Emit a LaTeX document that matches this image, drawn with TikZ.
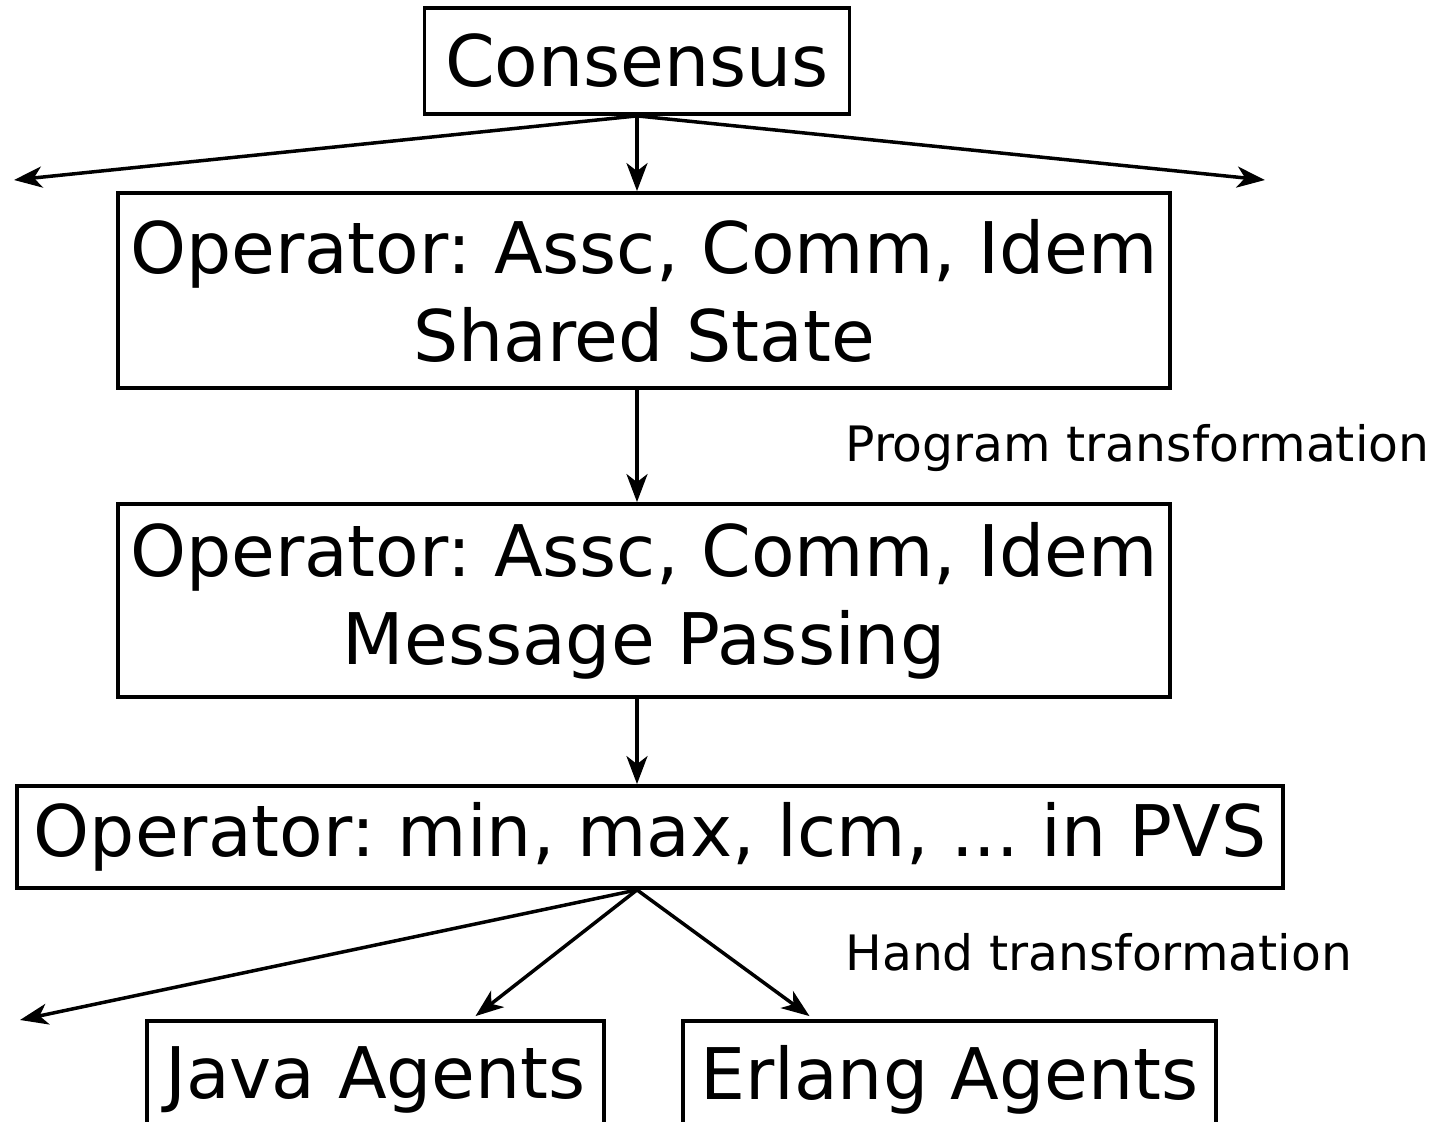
\documentclass[tikz,border=0pt]{standalone}
\usepackage{fontspec}
\setmainfont{DejaVu Sans}
\usetikzlibrary{arrows.meta,calc}
\frenchspacing
\begin{document}
\frenchspacing
\begin{tikzpicture}[x=0.5pt,y=-0.5pt,
  box/.style={draw,line width=1.9pt,inner sep=0pt,font=\fontsize{35.6}{44}\selectfont,align=center},
  lbl/.style={font=\fontsize{24.4}{29}\selectfont,anchor=base west,inner sep=0pt},
  arr/.style={line width=1.75pt,-{Stealth[length=14pt,width=10.5pt,inset=4pt]}}]
\useasboundingbox (0,0) rectangle (1432,1122);
\clip (0,0) rectangle (1432,1122);
\node[box,minimum width=212.5pt,minimum height=53pt] (cons) at (637,61) {Consensus};
\node[box,minimum width=526pt,minimum height=97.5pt] (box2) at (644,290.5) {Operator: Assc, Comm, Idem\\Shared State};
\node[box,minimum width=526pt,minimum height=96.5pt] (box3) at (644,600.5) {Operator: Assc, Comm, Idem\\Message Passing};
\node[box,minimum width=633pt,minimum height=51pt] (box4) at (650,837) {Operator: min, max, lcm, ... in PVS};
\node[box,minimum width=228.5pt,minimum height=59pt] (java) at (375.5,1080) {Java Agents};
\node[box,minimum width=266.5pt,minimum height=59pt] (erl) at (949.5,1080) {Erlang Agents};
\node[lbl] (pt) at (845,462) {Program transformation};
\node[lbl] (ht) at (845,971) {Hand transformation};
\coordinate (L1) at (14,180);
\coordinate (R1) at (1265,180);
\coordinate (L2) at (20,1020);
\draw[arr] (cons.south) -- (L1);
\draw[arr] (cons.south) -- (R1);
\draw[arr] (cons.south) -- (cons.south |- box2.north);
\draw[arr] (cons.south |- box2.south) -- (cons.south |- box3.north);
\draw[arr] (cons.south |- box3.south) -- (cons.south |- box4.north);
\draw[arr] (cons.south |- box4.south) -- (L2);
\draw[arr] (cons.south |- box4.south) -- ($(java.north)+(100,-3)$);
\draw[arr] (cons.south |- box4.south) -- ($(erl.north)+(-140,-3)$);
\end{tikzpicture}
\end{document}
